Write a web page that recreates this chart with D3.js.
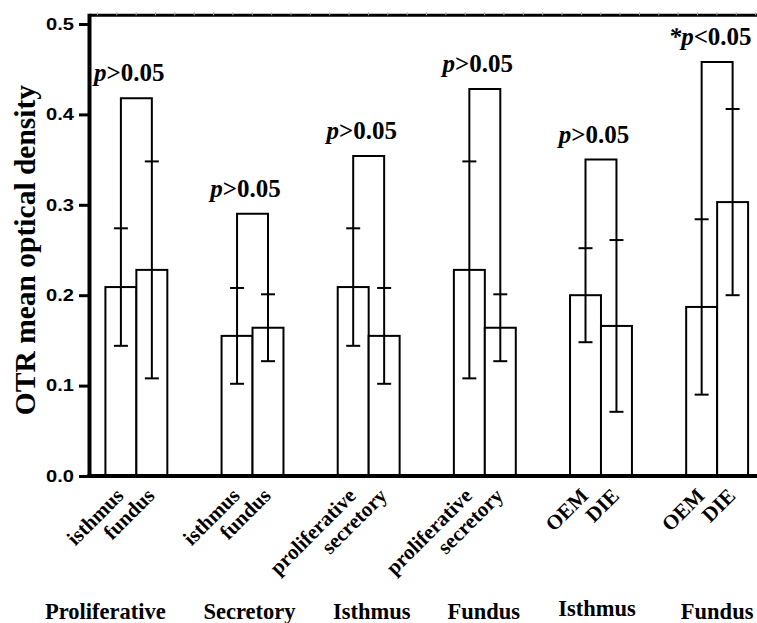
<!DOCTYPE html>
<html>
<head>
<meta charset="utf-8">
<script src="https://cdn.jsdelivr.net/npm/d3@7"></script>
<style>
  html, body { margin: 0; padding: 0; background: #fff; }
  svg { display: block; }
  .serif { font-family: "Liberation Serif", "Times New Roman", serif; font-weight: bold; }
  .sans { font-family: "Liberation Sans", Arial, sans-serif; font-weight: bold; }
</style>
</head>
<body>
<div id="chart"></div>
<script>
// Comparison groups and the two bars inside each
const groups = ["Proliferative", "Secretory", "Isthmus", "Fundus", "Isthmus", "Fundus"];
const subLabels = [
  ["isthmus", "fundus"],
  ["isthmus", "fundus"],
  ["proliferative", "secretory"],
  ["proliferative", "secretory"],
  ["OEM", "DIE"],
  ["OEM", "DIE"]
];
// Mean OTR optical density and its spread (±) per bar
const means = [
  [0.209, 0.228],
  [0.155, 0.164],
  [0.209, 0.155],
  [0.228, 0.164],
  [0.200, 0.166],
  [0.187, 0.303]
];
const errors = [
  [0.065, 0.120],
  [0.053, 0.037],
  [0.065, 0.053],
  [0.120, 0.037],
  [0.052, 0.095],
  [0.097, 0.103]
];
// Height of each significance bracket and its annotation
const bracketTops = [0.418, 0.290, 0.354, 0.428, 0.350, 0.458];
const pLabels = ["p>0.05", "p>0.05", "p>0.05", "p>0.05", "p>0.05", "*p<0.05"];
const yTicks = [0.0, 0.1, 0.2, 0.3, 0.4, 0.5];
const yTitle = "OTR mean optical density";

// Layout
const W = 757, H = 623;
const axisX = 89.5, baseY = 476, frameTopY = 15.3, rightEdge = 766;
const groupLabelShift = [-31, -3, 3, -1, -4, 0];
const groupLabelDy = [0, 0, 0, 0, -3, 0];

const svg = d3.select("#chart").append("svg")
  .attr("width", W).attr("height", H);

const x0 = d3.scaleBand()
  .domain(d3.range(groups.length))
  .range([axisX, 764])
  .paddingInner(0.467)
  .paddingOuter(0.137);
const x1 = d3.scaleBand().domain([0, 1]).range([0, x0.bandwidth()]);
const y = d3.scaleLinear().domain([0, 0.5]).range([baseY, 24]);

const rows = [];
groups.forEach((g, gi) => {
  [0, 1].forEach(si => {
    rows.push({
      gi, si,
      mean: means[gi][si],
      err: errors[gi][si],
      label: subLabels[gi][si],
      cx: x0(gi) + x1(si) + x1.bandwidth() / 2
    });
  });
});

// Bars
svg.append("g").selectAll("rect").data(rows).join("rect")
  .attr("x", d => x0(d.gi) + x1(d.si))
  .attr("y", d => y(d.mean))
  .attr("width", x1.bandwidth())
  .attr("height", d => y(0) - y(d.mean))
  .attr("fill", "#fff")
  .attr("stroke", "#000")
  .attr("stroke-width", 2);

// Error bars
const capW = 7;
const eb = svg.append("g").attr("stroke", "#000").attr("stroke-width", 2).attr("fill", "none");
rows.forEach(d => {
  const lo = y(d.mean - d.err), hi = y(d.mean + d.err);
  eb.append("line").attr("x1", d.cx).attr("x2", d.cx).attr("y1", lo).attr("y2", hi);
  eb.append("line").attr("x1", d.cx - capW).attr("x2", d.cx + capW).attr("y1", lo).attr("y2", lo);
  eb.append("line").attr("x1", d.cx - capW).attr("x2", d.cx + capW).attr("y1", hi).attr("y2", hi);
});

// Significance brackets and p-value annotations
groups.forEach((g, gi) => {
  const a = rows.find(r => r.gi === gi && r.si === 0);
  const b = rows.find(r => r.gi === gi && r.si === 1);
  const top = y(bracketTops[gi]);
  eb.append("path")
    .attr("d", `M${a.cx},${y(a.mean + a.err)}V${top}H${b.cx}V${y(b.mean + b.err)}`);

  const m = pLabels[gi].match(/^(\*?p)(.*)$/);
  const t = svg.append("text")
    .attr("class", "serif")
    .attr("x", x0(gi) + x0.bandwidth() / 2 - 7)
    .attr("y", top - 17)
    .attr("text-anchor", "middle")
    .attr("font-size", 25);
  t.append("tspan").attr("font-style", "italic").text(m[1]);
  t.append("tspan").text(m[2]);
});

// Frame: left axis line, baseline and top border
const frame = svg.append("g").attr("stroke", "#000").attr("fill", "none");
frame.append("line").attr("x1", axisX).attr("x2", axisX).attr("y1", frameTopY - 1.5).attr("y2", baseY + 2)
  .attr("stroke-width", 4);
frame.append("line").attr("x1", axisX - 2).attr("x2", rightEdge).attr("y1", baseY).attr("y2", baseY)
  .attr("stroke-width", 4);
frame.append("line").attr("x1", axisX).attr("x2", rightEdge).attr("y1", frameTopY).attr("y2", frameTopY)
  .attr("stroke-width", 3);

// Small tick marks along the top border
const minorStep = x0.step() / 6;
svg.append("g").selectAll("line")
  .data(d3.range(x0(0) - 8, rightEdge, minorStep))
  .join("line")
  .attr("x1", d => d).attr("x2", d => d)
  .attr("y1", frameTopY - 3).attr("y2", frameTopY)
  .attr("stroke", "#aaa").attr("stroke-width", 1);

// Y axis ticks and labels
const yAxis = svg.append("g")
  .attr("transform", `translate(${axisX},0)`)
  .call(d3.axisLeft(y).tickValues(yTicks).tickFormat(d3.format(".1f"))
    .tickSize(10.5).tickSizeOuter(0).tickPadding(5));
yAxis.select(".domain").remove();
yAxis.selectAll(".tick line").attr("stroke", "#000").attr("stroke-width", 3);
yAxis.selectAll(".tick text")
  .attr("class", "sans")
  .attr("font-size", 16.5)
  .attr("fill", "#000")
  .attr("x", 0)
  .attr("transform", "translate(-15.5,0) scale(1.22,1)");

// Y axis title
svg.append("text")
  .attr("class", "serif")
  .attr("font-size", 29.5)
  .attr("text-anchor", "middle")
  .attr("transform", `translate(35,${(y(0) + y(0.5)) / 2}) rotate(-90)`)
  .text(yTitle);

// Rotated bar labels
svg.append("g").selectAll("text").data(rows).join("text")
  .attr("class", "serif")
  .attr("font-size", 21)
  .attr("text-anchor", "end")
  .attr("transform", d => `translate(${d.cx + 4},497) rotate(-45)`)
  .text(d => d.label);

// Group labels
svg.append("g").selectAll("text").data(groups).join("text")
  .attr("class", "serif")
  .attr("font-size", 22.5)
  .attr("text-anchor", "middle")
  .attr("x", (d, i) => x0(i) + x0.bandwidth() / 2 + groupLabelShift[i])
  .attr("y", (d, i) => 619 + groupLabelDy[i])
  .text(d => d);
</script>
</body>
</html>
